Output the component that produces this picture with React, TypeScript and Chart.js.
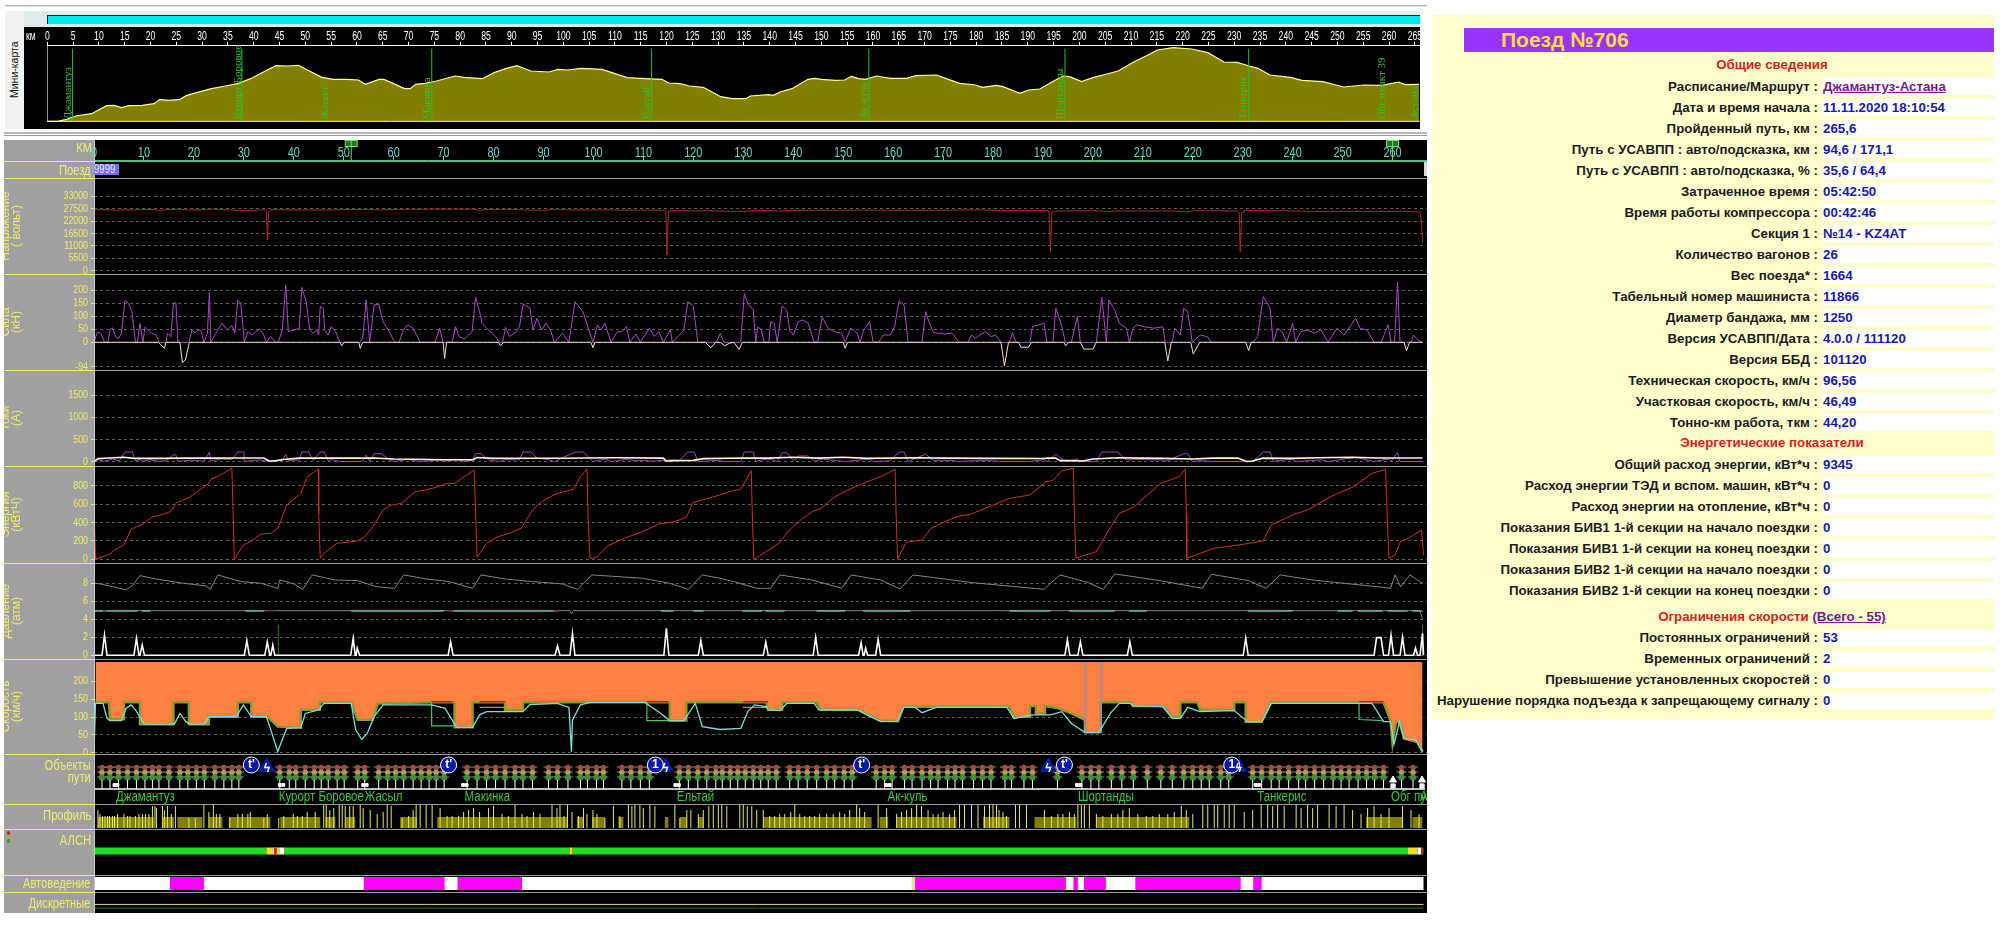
import React, { useEffect, useRef } from "react";
import { Chart, registerables } from "chart.js";

Chart.register(...registerables);

type P = [number, number];
const SANS = "'Liberation Sans',Arial,sans-serif";
const YELLOW = "#eeee70";
const GRID = "#5a5a5a";
const KM_MAX = 266.9;

// ---------- data (km, value) ----------
const elevation: P[] = [[0,0],[2,0],[3.7,6],[5.5,16],[8.6,23],[10,35],[11.5,47],[12.9,48],[14.4,41],[15.8,47],[18.4,48],[20.7,53],[21.8,66],[23.3,63],[25.6,65],[26.9,77],[29.1,87],[31.8,98],[34.5,106],[37.1,114],[39.4,128],[41.6,146],[44.3,167],[46.5,166],[48.7,168],[50.5,153],[53.2,132],[55.4,126],[58.1,126],[60.3,124],[61.6,111],[64.3,126],[65.2,126],[67,114],[69.2,98],[70.3,98],[71.4,111],[73.2,114],[75.4,121],[79,136],[80.8,132],[84.3,128],[86.6,146],[88.8,158],[91,167],[93.7,151],[97.2,148],[99,156],[100.8,154],[103.5,159],[107.5,156],[110.6,140],[112.4,131],[115.9,128],[119.1,126],[120.4,115],[122.6,113],[124.4,106],[127.1,102],[128.9,87],[130.5,74],[132.7,68],[135.4,68],[136.2,76],[139.8,80],[140.7,78],[142,88],[144.3,98],[147.4,126],[148.7,129],[150,126],[152.7,123],[154.5,124],[155.8,135],[157.2,128],[158.5,126],[160.7,136],[163.4,129],[166.5,129],[168.3,137],[172.3,139],[174.6,126],[176.8,114],[179.9,109],[181.2,102],[183.9,108],[185.2,104],[188.4,84],[190.2,94],[192.3,97],[194.6,117],[196.8,136],[198.1,134],[200.4,119],[202.6,131],[205.3,142],[207.5,151],[210.6,179],[213.3,199],[215.1,214],[218.2,221],[221.7,217],[224.9,206],[228,178],[230.6,177],[232.9,166],[234.6,159],[236.9,139],[240.9,132],[243.1,123],[247.2,119],[251.2,103],[255.1,109],[258.7,108],[261.8,118],[263.1,110],[265.8,111]];
const stationLineKm = [4.9, 37.7, 74.5, 117.1, 159.2, 197.2, 232.8];
const miniStations: [number, string][] = [[4,"Джамантуз"],[36.9,"Курорт Боровое"],[53.9,"Жасыл"],[73.6,"Макинка"],[116.2,"Ельтай"],[158.2,"Ак-куль"],[196.3,"Шортанды"],[231.8,"Танкерис"],[258.7,"Обг пункт 39"],[265.1,"Астана"]];
const kmMarkers = [51.5, 260];

const voltage: P[] = [[0,27000],[2,27100],[4,26900],[8,27000],[11,27200],[13,26800],[17,27300],[19,26900],[24,27300],[27,27000],[29,26700],[32,26800],[34.3,27000],[34.5,26500],[34.7,13600],[35,26500],[35.5,27100],[40,27000],[45,26900],[50,27100],[55,27200],[57,26900],[60,27200],[70,27300],[76,27300],[77,26800],[78,26900],[79,27200],[85,27200],[86,26900],[90,26800],[93,27200],[95,27000],[100,27000],[105,26900],[110,26900],[114.2,26800],[114.5,26300],[114.7,6950],[115,26300],[116,26700],[120,26500],[123,26600],[128,26300],[130,26200],[133,26800],[137,26500],[140,26800],[145,26800],[150,26800],[155,26900],[160,26800],[170,26800],[177,27000],[180,26800],[191,26700],[191.2,26000],[191.5,8140],[191.8,26000],[192.5,26500],[200,26600],[203,26300],[206,26500],[215,26500],[218,26200],[221,26600],[229,26500],[229.3,25800],[229.5,8436],[229.8,25800],[230.5,26700],[238,26600],[244,26300],[250,26300],[256,26200],[262,26300],[265.5,26000],[265.8,22000],[266,12580]];

const forceTraction: P[] = [[0,0],[0.6,37],[1.4,35],[2.1,0],[2.8,0],[3.2,47],[3.7,56],[4.3,22],[4.9,14],[5.5,35],[6.2,160],[6.9,150],[7.6,118],[8.3,0],[8.7,0],[9.2,73],[9.8,0],[10.2,58],[10.8,47],[11.5,35],[12.5,28],[13,0],[14.4,0],[14.7,35],[15.4,22],[15.9,150],[16.4,152],[16.8,0],[19,0],[19.6,47],[20.2,37],[20.9,47],[21.4,47],[22,0],[22.7,35],[23.1,192],[23.4,0],[24.4,35],[25.6,73],[26.7,47],[27.6,64],[28.2,35],[28.8,163],[29.4,150],[30.1,0],[30.8,41],[31.7,28],[32.4,41],[33.2,51],[34,28],[34.5,0],[35.4,22],[36.3,0],[36.9,0],[37.7,47],[38.4,220],[38.9,41],[40,47],[41.1,54],[41.6,211],[42.5,156],[43.2,47],[43.9,35],[44.6,47],[45,28],[45.3,138],[45.9,131],[46.2,47],[46.9,28],[47.5,60],[48.4,41],[49.2,0],[53.3,0],[53.8,15],[54.5,163],[55.2,0],[56.1,144],[57,146],[57.9,79],[59.3,35],[60.2,0],[61.1,0],[61.9,47],[62.8,67],[63.9,54],[65.3,0],[68.3,0],[69.2,54],[69.9,0],[71.7,0],[72.4,60],[73.1,22],[74.2,12],[75.7,41],[76.4,173],[77.2,118],[77.7,73],[79,47],[80.4,22],[81.2,0],[81.8,0],[82.4,58],[83.2,22],[84.6,41],[85.2,60],[85.9,147],[87.3,131],[87.9,47],[88.7,92],[89.6,47],[90.5,73],[91.4,47],[92.2,0],[93.8,35],[95.1,0],[96.3,156],[97.9,118],[99.3,35],[99.9,0],[100.8,67],[101.5,47],[102.3,73],[103.5,0],[104.8,41],[105.7,41],[106.6,60],[107.3,0],[108.5,32],[109.4,0],[110.3,28],[111.2,54],[112.2,22],[113.1,41],[114,0],[115.4,47],[115.8,0],[117.2,28],[118.1,47],[118.9,156],[120,137],[120.9,0],[124.6,0],[125.4,35],[126.1,0],[129.5,0],[130.2,188],[130.9,150],[132,124],[132.5,0],[132.9,58],[133.6,50],[134.2,0],[135.1,0],[135.5,79],[136.2,73],[136.8,0],[137.8,140],[138.7,124],[139.3,47],[140,28],[141,79],[141.9,86],[143,73],[144.2,0],[144.9,3],[145.8,96],[147,54],[148.2,41],[149.7,35],[150.4,0],[151.5,54],[152.8,35],[153.4,0],[154.1,47],[155.3,79],[156,0],[157.1,0],[158,28],[159.4,28],[160.3,60],[161.2,160],[162.2,144],[163,0],[165.8,0],[166.5,118],[167.3,73],[168.1,37],[170.4,32],[171.8,35],[173.2,0],[175,0],[175.7,28],[176.5,15],[177.3,28],[178.5,41],[179.6,22],[180.5,28],[181.6,0],[183.3,0],[183.9,37],[184.6,0],[187.4,0],[187.9,60],[189.2,67],[190.2,73],[190.8,0],[192,0],[192.6,131],[193.8,60],[194.5,0],[195.7,0],[196.9,99],[197.5,0],[200.7,0],[201.8,173],[202.7,0],[203.2,163],[204.4,124],[205.3,73],[206.7,54],[207.3,0],[208,54],[208.8,67],[210.3,60],[212.2,54],[214,60],[214.5,0],[215.9,0],[216.4,54],[217.5,28],[218.2,131],[219,118],[219.9,0],[221.5,28],[222.9,22],[223.7,0],[232,0],[233,22],[234.1,176],[235.5,131],[236.1,0],[237,54],[237.9,41],[238.8,0],[240,73],[240.6,0],[241.6,41],[243,47],[244.3,35],[245.7,47],[247.1,0],[248.9,54],[250.3,28],[252.6,92],[253.5,54],[254.9,47],[256.3,0],[257.7,0],[259.1,67],[259.7,0],[260.4,0],[261,233],[261.5,0],[263.7,0],[264.2,28],[265.1,9],[266,0]];
const forceBrake: P[] = [[0,0],[12.9,0],[14.1,-23],[14.4,0],[17.2,0],[17.7,-78],[18.3,-68],[19.1,0],[49.2,0],[49.6,-13],[50.1,0],[53,0],[53.3,-23],[53.8,0],[69.9,0],[70.2,-62],[70.6,0],[81,0],[81.4,-14],[82,0],[99.5,0],[99.9,-21],[100.3,0],[122.4,0],[123.5,-21],[124.5,0],[125.4,0],[126.3,-13],[127.2,-4],[128.1,0],[129.2,-27],[129.8,0],[150,0],[150.4,-23],[150.9,0],[181.6,0],[182.3,-91],[183.1,0],[185.1,0],[185.6,-19],[187.1,-19],[187.7,0],[194.3,0],[194.5,-14],[195.2,0],[197.5,0],[198.2,-26],[200,-26],[200.7,0],[214.4,0],[215,-72],[215.7,0],[219.6,0],[220.1,-45],[221.4,0],[230.6,0],[231.2,-32],[231.7,0],[262.3,0],[262.8,-32],[263.4,0],[266,0]];

const currentPurple: P[] = [[0,0],[0.6,50],[2,10],[3.7,60],[5,20],[6.2,218],[7.7,218],[8.3,15],[9.2,50],[9.8,10],[11,45],[13,10],[14.4,20],[15.9,156],[16.4,156],[16.8,10],[19.6,35],[22,10],[23.1,210],[23.4,20],[25.6,60],[27.6,50],[28.8,218],[30,218],[30.1,10],[32.4,30],[33.2,40],[34.5,10],[37.7,30],[38.4,170],[38.9,30],[41.1,40],[41.6,218],[43,218],[43.9,30],[45.3,218],[46.1,218],[46.9,25],[47.5,50],[49.2,5],[53.8,5],[54.5,150],[55.2,5],[56.1,180],[57.6,180],[59.3,30],[60.2,5],[62.8,50],[65.3,5],[69.2,40],[69.9,5],[72.4,50],[74.2,8],[75.7,30],[76.4,180],[77.5,180],[79,40],[81.2,5],[82.4,45],[85.2,45],[85.9,218],[87.5,218],[88.7,80],[90.5,60],[92.2,5],[96.3,218],[98,218],[99.9,5],[102.3,60],[103.5,5],[106.6,50],[108.5,25],[110.3,25],[112.2,15],[115.4,40],[117.2,25],[118.9,218],[120.2,218],[120.9,5],[125,30],[126.1,5],[129.5,5],[130.2,218],[132,218],[132.5,5],[133.6,40],[135.5,60],[136.8,5],[137.8,205],[138.7,205],[140,25],[141,130],[143,130],[144.2,10],[145.8,60],[148,30],[150.4,5],[152.8,30],[155.3,60],[156,5],[159.4,20],[161.2,218],[162.2,218],[163,5],[166.5,170],[168.1,30],[171.8,30],[173.2,5],[178.5,30],[181.6,5],[187.4,5],[190.2,50],[190.8,5],[192.6,170],[193.8,60],[194.5,5],[196.9,60],[197.5,5],[200.7,5],[201.8,218],[205,218],[206.7,40],[208.8,50],[214,40],[214.5,5],[218.2,180],[219,180],[219.9,5],[221.5,25],[223.7,5],[232,5],[234.1,218],[235.5,218],[236.1,10],[240,60],[240.6,5],[245.7,40],[247.1,5],[252.6,100],[254.9,40],[256.3,5],[259.1,60],[259.7,5],[261,200],[261.5,5],[266,5]];
const currentWhite: P[] = [[0,0],[0.8,70],[3,85],[6,100],[8,75],[14,75],[18,85],[24,80],[28,85],[34,85],[34.7,40],[35.2,10],[36.5,25],[38,50],[41,80],[44,85],[50,80],[56,85],[60,60],[64,55],[70,45],[76,45],[76.6,95],[80,75],[88,78],[95,78],[98,85],[105,90],[114,80],[114.6,10],[115.8,25],[120,30],[122,70],[130,85],[135,80],[140,100],[145,80],[150,100],[155,75],[165,90],[170,80],[180,75],[190,72],[191,80],[192.5,85],[193.5,25],[195,25],[198,15],[200,60],[205,90],[210,80],[214,75],[220,60],[224,80],[229,85],[230.8,5],[232,15],[234,80],[240,75],[245,90],[252,100],[257,85],[266,85]];

const energy: P[] = [[0,611],[0.3,0],[3.2,58],[4.1,102],[6,156],[7.4,327],[8.3,349],[9.7,382],[11.5,458],[12.9,476],[15.3,520],[16.5,618],[17.9,647],[19.3,684],[21.6,775],[23,829],[23.4,873],[25.3,920],[27.6,993],[27.8,611],[28.1,0],[29.9,156],[31.3,193],[33.5,276],[35.4,284],[36.8,338],[38.6,593],[41.4,720],[42.7,902],[44.9,985],[45,502],[45.3,11],[46.4,84],[48.7,175],[52.8,200],[54.2,247],[55.6,338],[57.9,538],[59.3,589],[61.6,611],[64.3,738],[66.2,756],[68.5,785],[70.3,822],[72.2,829],[76.1,975],[76.3,684],[76.7,22],[78.6,175],[80.9,247],[83.2,284],[85.5,338],[87.8,538],[89.6,629],[92.4,713],[96,764],[97.4,902],[98.7,985],[98.9,502],[99.3,11],[100.5,18],[102.9,149],[106.2,229],[109.8,302],[113.1,385],[116.3,411],[118.6,458],[119.9,618],[121.8,647],[125.3,702],[127.2,738],[129.5,764],[131.6,967],[131.8,502],[132.1,0],[134.6,84],[137.3,182],[139.2,320],[141.9,447],[143.8,520],[145.6,556],[147.9,665],[150.2,738],[152.9,804],[155.7,865],[157.5,902],[160.4,982],[160.6,502],[160.9,0],[162.6,185],[165.8,211],[167.6,338],[170.4,411],[172.7,465],[175.5,491],[179.6,582],[183.3,665],[187.4,702],[190.6,847],[192,858],[193.8,967],[196.1,993],[196.3,502],[196.6,11],[200.7,84],[203,302],[205.3,502],[208.1,567],[213.6,829],[217.3,902],[218.5,982],[218.7,502],[218.8,11],[224.2,120],[229.2,156],[234.1,200],[235.7,375],[240.3,491],[243,538],[247.6,684],[252.2,793],[255.9,938],[258.6,982],[258.9,502],[259.3,11],[260.5,47],[261.6,193],[263.2,229],[265.8,320],[266.2,47]];

const pressureMain: P[] = [[0,8.07],[3.2,7.7],[6.4,7.26],[7.8,7.8],[9.2,8.85],[12.4,8.48],[17,8.07],[22.5,7.7],[23.3,7.33],[24.8,8.93],[29.4,8.19],[33.5,8],[36.8,7.44],[37.2,8.37],[40,7.93],[41.8,7.33],[43.7,8.93],[48.3,8.37],[52.8,8.3],[56.5,7.63],[60.2,7.44],[62,8.93],[66.6,8.48],[71.2,8.19],[75.8,7.44],[77.5,8.93],[82.3,8.48],[87.8,8.19],[93.8,7.93],[96.8,7.33],[99.7,8.93],[109.8,8.56],[115.3,8],[119,7.33],[121.8,8.93],[125.3,8.56],[128.1,8.19],[132.7,7.44],[135.5,7.44],[137.3,8.93],[143.8,8.37],[149.7,7.44],[151.6,8.93],[157.5,8.37],[161.4,7.37],[164,8.93],[175.9,8.07],[190.2,7.33],[193.4,8.93],[198.9,8.11],[202.1,7.33],[204.4,9.04],[212.7,8.37],[221.9,7.44],[223.7,9],[231.1,8.3],[234.7,7.44],[237.5,8.93],[243.9,8.37],[256.8,7.63],[259.6,7.44],[260.5,8.93],[261.6,7.63],[263.5,8.93],[266,8]];
const pressureLine: P[] = [[0,4.96],[95.3,4.96],[95.6,4.6],[96,4.96],[265.5,4.96],[266,4]];
const pressureTealRuns: P[] = [[0,8.7],[9.5,11.3],[30.3,34],[51.5,70],[71.5,92.8],[113.5,116],[120,122],[129.8,133.8],[134.4,138.3],[144.7,150.4],[154,163.5],[183.3,191.5],[195.2,204.4],[207.2,210.8],[231,240],[249,252],[253,258],[259,263],[264,266]];
const pressureRedRuns: P[] = [[1.8,2.5],[34.9,36],[71,72],[92,93]];
const brakeCylinder: P[] = [[0,0],[1.6,0],[2.1,2.26],[2.6,0],[8,0],[8.5,1.9],[9,0],[9.2,0],[9.65,1.15],[10.1,0],[30.1,0],[30.6,1.63],[31.1,0],[34.2,0],[34.7,1.5],[35.2,0],[35.4,0],[35.8,1.15],[36.2,0],[51.4,0],[51.9,1.9],[52.3,0],[52.5,0],[52.7,0.8],[53.2,0],[70.9,0],[71.4,1.5],[71.9,0],[92.3,0],[92.8,1.04],[93.3,0],[95.3,0],[95.8,2.44],[96.3,0],[114.1,0],[114.6,3],[115.1,0],[121,0],[121.5,1.63],[122,0],[134,0],[134.5,1.44],[135,0],[144,0],[144.5,2],[145,0],[153.1,0],[153.6,1.4],[154,0],[154.2,0],[154.5,0.8],[154.9,0],[156.5,0],[157,1.78],[157.5,0],[194.4,0],[194.9,1.7],[195.4,0],[197,0],[197.5,1.5],[198,0],[206.9,0],[207.4,1.5],[207.9,0],[230.1,0],[230.6,1.9],[231.1,0],[256.3,0],[256.8,1.96],[257.7,1.96],[258.2,0],[259.2,0],[259.7,2.26],[260.2,0],[261.5,0],[262,2],[262.5,0],[264.2,0],[264.6,0.8],[265,0],[265.5,0],[266,2.44],[266.2,0]];
const pressureGreenSpikes: P[] = [[36.9,3.4],[266,3.4]];

const speedLimit: P[] = [[0.3,141],[3,141],[3.2,94],[6,94],[6,141],[9.2,141],[9.2,80],[15.9,80],[15.9,141],[19,141],[19,80],[23,80],[23,101],[28.8,101],[28.8,141],[31.5,141],[31.5,101],[34.7,101],[36.8,73],[41.4,70],[41.4,120],[45.2,120],[45.2,141],[51.5,141],[52.8,92],[55.8,92],[56.8,138],[67.6,141],[72.2,141],[72.2,71],[75.8,71],[75.8,141],[82.3,141],[82.3,120],[85.9,120],[85.9,141],[115.3,141],[115.3,90],[118.6,90],[118.6,141],[134.6,141],[135,120],[137.8,120],[137.8,141],[144.7,141],[145.5,120],[153,120],[157.5,90],[161,88],[162.1,129],[183.3,129],[184.2,101],[187.4,101],[187.4,131],[188.6,131],[188.6,110],[190.4,110],[190.4,131],[193,125],[195.7,110],[198.4,92],[198.4,57],[201.6,57],[201.6,141],[207.6,141],[208,131],[214,131],[215.9,101],[217.5,101],[217.5,141],[220.9,141],[221.5,120],[228.3,120],[228.3,141],[230.6,141],[230.6,87],[233.8,87],[235.7,141],[258.2,141],[259.6,90],[260,26],[260.7,87],[261.4,87],[262.3,40],[265,30],[266,3]];
const speedActual: P[] = [[0,3],[0.3,138],[1.8,138],[2.6,96],[3.2,90],[5.5,90],[6.4,124],[7.4,134],[8.3,120],[10.1,80],[16.1,80],[17.2,110],[18.4,87],[19.3,80],[22.1,80],[23,101],[28.5,101],[29.9,134],[31.5,101],[34.5,101],[35.4,64],[36.8,3],[37.4,26],[38.6,68],[41.4,70],[42.3,110],[45,120],[46,138],[51.5,138],[52.4,64],[53.6,37],[54.7,54],[56.1,101],[57.9,134],[67.6,134],[70.3,124],[71.7,92],[72.6,71],[75.8,71],[77.2,106],[78.6,115],[85.9,115],[87.3,135],[92.8,138],[95.1,127],[95.6,3],[95.8,92],[97.4,134],[99.3,141],[110.3,141],[113.5,110],[115.3,90],[118.1,90],[120.4,138],[121.8,73],[125.3,65],[129.5,68],[130.9,115],[132.3,134],[134.6,129],[135,120],[137.3,118],[138.7,138],[144.2,138],[145.1,120],[152.9,120],[154.8,106],[157.5,87],[160.8,88],[162.1,127],[164.4,127],[165.8,112],[168.6,127],[182.8,127],[184.2,96],[187.9,106],[191.5,106],[193.8,115],[195.7,82],[198.4,57],[201.2,57],[203.5,110],[205.3,138],[207.6,138],[208.1,131],[214,129],[215.9,96],[217.5,96],[219,127],[221.4,115],[228.3,118],[231,87],[233.8,87],[235.7,138],[253.1,138],[255.9,138],[258.2,87],[259.6,87],[260.3,24],[261.4,87],[262.3,40],[264.6,36],[266,3]];
const speedTempSegments: P[][] = [[[67.6,141],[67.6,75],[72.2,75]],[[77.2,127],[82.3,127]],[[110.7,141],[110.7,90],[115.3,90]],[[129.9,127],[134.6,127]],[[253.3,141],[253.3,93],[258.2,90]]];
const speedRedRuns: P[] = [[67.6,71.8],[77.2,82.3],[110.7,115],[130,135],[253.3,258.2]];
const speedRestriction: P[] = [[198.4,260],[198.4,57],[201.6,57],[201.6,260]];

const signalKm = [1.6,3.2,4.9,6.7,8.5,10.2,11.7,13,15,17.2,18.8,20.5,22.1,24.2,26,27.6,29,37.2,39.1,40.4,42.3,44.1,45.5,46.9,48.7,50.1,52.8,54.2,57,58.8,60.4,62,63.9,65.5,67.1,68.5,70.1,74.7,76.7,78.6,80.4,82.3,84.3,85.9,87.8,91,92.8,94.9,97.4,98.8,100.6,102,105.7,107.5,109.4,111.2,117.2,119,120.9,122.7,124.5,125.8,127.4,128.9,130.4,132,133.5,135,136.6,139.3,141,142.8,144.7,146.7,148.3,150.2,151.8,156.6,158.3,159.8,162.3,163.8,165.8,167.5,169,170.9,172.4,173.9,176.1,177.9,179.6,182.4,183.7,186.2,187.9,192.9,197.8,199.6,201.2,203.7,205.8,208.1,210.9,213.6,215.9,218.2,220,221.7,223.3,225.6,227.2,232,233.8,235.7,237.3,239.2,241.2,242.6,244.4,246.2,248.1,249.7,251.3,253.1,254.8,256.4,258.2,261.8,264.1];
const speedSignKm: [number, string][] = [[31.5,"t'"],[71,"t'"],[112.4,"1"],[153.7,"t'"],[194.3,"t'"],[227.8,"1"]];
const powerSignKm = [34.6, 114.4, 191.1, 229.2];
const stopMarkerKm = [4.1,4.7,37.2,37.9,53.9,54.6,73.9,74.6,116.4,117.1,158.6,159.3,196.8,197.5,232.6,233.3];
const houseKm = [260.1, 265.9];
const trackStations: [number, string][] = [[4.4,"Джамантуз"],[37,"Курорт Боровое"],[54.2,"Жасыл"],[74.2,"Макинка"],[116.7,"Ельтай"],[158.9,"Ак-куль"],[197,"Шортанды"],[232.9,"Танкерис"],[259.7,"Обг пункт 39"],[265.5,"Астана"]];

const profileBlocks: P[] = [[0.7,12],[13.7,16],[16.7,21.7],[23,25.7],[27,35.3],[37.3,45.3],[46.3,48.3],[50.3,52.3],[61.3,64.7],[68.7,94.7],[96.7,98],[99.7,102.3],[105,106],[114.3,115],[117.3,118.7],[121,122],[134,155.7],[157.3,159],[160.7,172.7],[178,183.3],[188.3,196.7],[200.7,219.3],[254.7,262],[264,266]];
const profileTicks: P[] = [[0.8,18],[1.2,14],[1.7,12],[2.2,12],[2.7,12],[3.1,12],[3.7,12],[4.1,12],[4.7,14],[6,14],[6.7,12],[7.2,12],[8.3,12],[9,14],[9.7,14],[10.3,14],[11,14],[11.7,22],[12.2,22],[12.5,20],[13.7,22],[14.1,18],[14.7,22],[15.5,14],[16.3,22],[19,10],[20.3,10],[22,23],[23,16],[23.9,23],[24.5,14],[25.2,14],[27.2,10],[28.8,14],[29.7,14],[30.8,14],[31.3,16],[34,10],[34.7,14],[37,10],[38,12],[39.9,14],[40.7,12],[41.7,12],[42.7,16],[44.3,16],[46,23],[46.5,23],[47.2,18],[48,20],[49.1,23],[49.7,23],[50.3,22],[51.2,22],[51.9,22],[53.3,23],[53.9,20],[55.3,18],[56.7,14],[57.9,16],[58.7,23],[59.5,22],[61.7,10],[63,12],[63.9,18],[64.5,23],[65.3,23],[66.5,23],[67.7,23],[69.3,20],[70.7,12],[71.7,12],[73,12],[74,16],[75,18],[76,20],[77.2,16],[79,20],[80,22],[81.7,14],[83,12],[84.3,23],[85.7,14],[86.7,12],[88,16],[89.3,14],[91.7,23],[92.7,20],[93.3,23],[94.1,12],[94.8,23],[95.7,16],[97,12],[98,20],[98.7,14],[99.9,18],[100.7,14],[102.3,10],[104,22],[105.3,12],[107,23],[107.7,22],[108.3,23],[109.3,23],[110,20],[111.3,23],[112.3,22],[116.3,23],[117.3,10],[118.7,18],[119.5,18],[121,14],[122,18],[123.1,22],[124,23],[125,23],[125.7,23],[126.7,22],[129.3,23],[130,23],[130.8,22],[131.7,22],[132.7,18],[134,18],[135.3,12],[136.3,12],[137.3,14],[138.3,14],[139.5,16],[140.3,23],[141.3,14],[142.3,12],[143.3,12],[144.3,12],[145.3,14],[146.7,14],[148,14],[149.3,16],[150.3,14],[151.3,18],[152.7,23],[153.3,20],[154.3,16],[157,23],[158.7,20],[160.7,14],[161.7,16],[162.7,18],[163.7,20],[164.7,23],[165.7,22],[167,18],[168,14],[169,14],[170,16],[171.3,14],[172.3,18],[173.3,23],[174.3,23],[175.7,23],[177,23],[178.3,22],[179.3,23],[180,23],[180.7,23],[181.2,18],[182,16],[182.7,12],[184.5,23],[185.3,23],[186.7,23],[190.3,18],[191.7,12],[193,14],[194,14],[195.3,16],[196.3,14],[197,23],[197.7,23],[198.3,23],[199.3,23],[200.7,14],[202,12],[203.7,14],[205,14],[206,18],[207.3,20],[209,14],[210.7,12],[212,12],[213.3,14],[215,14],[216.3,16],[217.7,22],[218.7,18],[220,14],[222,23],[223,23],[224.3,23],[225,23],[226.3,23],[227.3,23],[228.3,23],[230.3,16],[232,18],[233.7,23],[235,23],[236,22],[237,23],[238.3,22],[240.7,23],[241.7,20],[243,23],[244,20],[245,23],[247.3,23],[248.7,22],[250.3,23],[252,18],[253.7,14],[255,20],[256.3,22],[257.7,14],[259.3,20],[262,22],[263.7,18],[265.3,14]];

const alsnGreen: P[] = [[0,34.5],[38.1,95.2],[95.8,263.1]];
const alsnYellow: P[] = [[34.5,35.7],[36.6,37.1],[95.2,95.8],[263.1,265]];
const alsnWhite: P[] = [[35.7,36.6],[37.1,38.1],[265,265.7]];
const alsnRed: P[] = [[36,36.6],[265.7,266.2]];

const autoBase: P = [0, 266.2];
const autoMagenta: P[] = [[15.2,22],[54,70.2],[72.8,85.7],[164.4,194.6],[196.1,197],[198.2,202.6],[208.5,229.6],[232.1,233.8]];
const autoPale: P[] = [[163.7,164.4]];
const discreteTop: P[] = [[0,1],[266.2,1]];
const discreteBottom: P[] = [[0,1],[266.2,1]];

const generalRows: [string, string][] = [["Дата и время начала :","11.11.2020 18:10:54"],["Пройденный путь, км :","265,6"],["Путь с УСАВПП : авто/подсказка, км :","94,6 / 171,1"],["Путь с УСАВПП : авто/подсказка, % :","35,6 / 64,4"],["Затраченное время :","05:42:50"],["Время работы компрессора :","00:42:46"],["Секция 1 :","№14 - KZ4AT"],["Количество вагонов :","26"],["Вес поезда* :","1664"],["Табельный номер машиниста :","11866"],["Диаметр бандажа, мм :","1250"],["Версия УСАВПП/Дата :","4.0.0 / 111120"],["Версия ББД :","101120"],["Техническая скорость, км/ч :","96,56"],["Участковая скорость, км/ч :","46,49"],["Тонно-км работа, ткм :","44,20"]];
const energyRows: [string, string][] = [["Общий расход энергии, кВт*ч :","9345"],["Расход энергии ТЭД и вспом. машин, кВт*ч :","0"],["Расход энергии на отопление, кВт*ч :","0"],["Показания БИВ1 1-й секции на начало поездки :","0"],["Показания БИВ1 1-й секции на конец поездки :","0"],["Показания БИВ2 1-й секции на начало поездки :","0"],["Показания БИВ2 1-й секции на конец поездки :","0"]];
const limitRows: [string, string][] = [["Постоянных ограничений :","53"],["Временных ограничений :","2"],["Превышение установленных скоростей :","0"],["Нарушение порядка подъезда к запрещающему сигналу :","0"]];

// ---------- helpers ----------
const pts = (a: P[]) => a.map(([x, y]) => ({ x, y }));
const runsAt = (runs: P[], y: number) => runs.flatMap(([a, b]) => [{ x: a, y }, { x: b, y }, { x: b, y: null as any }]);
const joinSegments = (s: P[][]) => s.flatMap((seg) => [...pts(seg), { x: seg[seg.length - 1][0], y: null as any }]);
const at = (xs: number[], y: number) => xs.map((x) => ({ x, y }));
const line = (data: any[], color: string, width = 1, extra: any = {}) => ({ type: "line", data, borderColor: color, borderWidth: width, pointRadius: 0, tension: 0, fill: false, ...extra });
const mark = (data: any[], color: string, style: string, radius: number, extra: any = {}) => ({ type: "scatter", data, backgroundColor: color, borderColor: color, pointStyle: style, pointRadius: radius, borderWidth: 1, showLine: false, ...extra });

const yRange = (top: number, bottom: number, vA: number, pA: number, vB: number, pB: number) => {
  const k = (vA - vB) / (pB - pA);
  return [vA + (pA - top) * k, vB - (bottom - pB) * k];
};

// condensed text: the reference's bitmap labels are much narrower than any installed face
function squeezed(ctx: any, text: string, x: number, y: number, sx: number, align: string) {
  ctx.save();
  ctx.translate(x, y);
  ctx.scale(sx, 1);
  ctx.textAlign = align;
  ctx.textBaseline = "middle";
  ctx.fillText(text, 0, 0);
  ctx.restore();
}

const baseOptions = (layout: any = {}): any => ({
  animation: false,
  responsive: false,
  devicePixelRatio: 1,
  events: [],
  layout: { autoPadding: false, padding: 0, ...layout },
  plugins: { legend: { display: false }, tooltip: { enabled: false }, title: { display: false } },
  elements: { point: { radius: 0 }, line: { tension: 0 } },
});
const flatX = (min = 0, max = KM_MAX) => ({ type: "linear", display: false, min, max, offset: false });

const yTickText = {
  id: "yTickText",
  afterDraw(c: any) {
    const { ctx, scales: { y } } = c;
    ctx.save();
    ctx.fillStyle = YELLOW;
    ctx.font = `11px ${SANS}`;
    y.ticks.forEach((t: any) => squeezed(ctx, String(t.value), 84, y.getPixelForValue(t.value), 0.8, "right"));
    ctx.restore();
  },
};

function stripOptions(range: number[], ticks: number[], title: string[]) {
  const o = baseOptions();
  o.scales = {
    x: flatX(),
    y: {
      type: "linear",
      min: range[1],
      max: range[0],
      afterBuildTicks: (s: any) => { s.ticks = ticks.map((value) => ({ value })); },
      afterFit: (s: any) => { s.width = 90; s.paddingTop = 0; s.paddingBottom = 0; },
      ticks: { display: false, autoSkip: false },
      grid: { color: GRID, tickColor: YELLOW, tickLength: 3, tickBorderDash: [], drawOnChartArea: true },
      border: { display: false, dash: [3, 3] },
      title: { display: true, text: title, color: YELLOW, padding: { top: -3, bottom: 0 }, font: { family: SANS, size: 12, lineHeight: 0.85 } },
    },
  };
  return o;
}
function plainOptions(min: number, max: number) {
  const o = baseOptions({ padding: { left: 90 } });
  o.scales = { x: flatX(), y: { type: "linear", display: false, min, max } };
  return o;
}

const miniLabels = {
  id: "miniLabels",
  afterDatasetsDraw(c: any) {
    const { ctx, scales: { x, y } } = c;
    ctx.save();
    ctx.fillStyle = "#35c035";
    ctx.font = "11px 'Liberation Serif',serif";
    ctx.textBaseline = "middle";
    miniStations.forEach(([km, name]) => {
      ctx.save();
      ctx.translate(x.getPixelForValue(km), y.getPixelForValue(0) - 2);
      ctx.rotate(-Math.PI / 2);
      ctx.fillText(name, 0, 0);
      ctx.restore();
    });
    ctx.fillStyle = "#fff";
    ctx.font = `12px ${SANS}`;
    squeezed(ctx, "км", 2, 9.5, 0.72, "left");
    x.ticks.forEach((t: any) => squeezed(ctx, String(t.value), x.getPixelForValue(t.value), 9.5, 0.72, "center"));
    ctx.restore();
  },
};
const kmLabels = {
  id: "kmLabels",
  afterDraw(c: any) {
    const { ctx, scales: { x } } = c;
    ctx.save();
    ctx.fillStyle = "#62d2c4";
    ctx.font = `14px ${SANS}`;
    x.ticks.forEach((t: any) => squeezed(ctx, String(t.value), x.getPixelForValue(t.value), 13, 0.78, "center"));
    kmMarkers.forEach((km) => {
      const p = x.getPixelForValue(km);
      ctx.fillStyle = "#1c7a1c";
      ctx.strokeStyle = "#7ed07e";
      ctx.fillRect(p - 6, 0.5, 12, 6);
      ctx.strokeRect(p - 6, 0.5, 12, 6);
      ctx.beginPath();
      ctx.moveTo(p, 0);
      ctx.lineTo(p, c.height);
      ctx.stroke();
    });
    ctx.fillStyle = YELLOW;
    ctx.font = `13px ${SANS}`;
    squeezed(ctx, "КМ", 88, 8, 0.85, "right");
    ctx.restore();
  },
};
const trackLabels = {
  id: "trackLabels",
  afterDatasetsDraw(c: any) {
    const { ctx, chartArea, scales: { x, y } } = c;
    ctx.save();
    ctx.beginPath();
    ctx.rect(chartArea.left, chartArea.top, chartArea.width, chartArea.height);
    ctx.clip();
    ctx.fillStyle = "#36c836";
    ctx.font = `14px ${SANS}`;
    trackStations.forEach(([km, name]) => squeezed(ctx, name, x.getPixelForValue(km), y.getPixelForValue(7), 0.82, "left"));
    ctx.fillStyle = "#fff";
    ctx.font = `bold 12px ${SANS}`;
    speedSignKm.forEach(([km, t]) => squeezed(ctx, t, x.getPixelForValue(km), y.getPixelForValue(39), 1, "center"));
    powerSignKm.forEach((km) => squeezed(ctx, "ϟ", x.getPixelForValue(km), y.getPixelForValue(35), 1, "center"));
    ctx.restore();
  },
};

const miniOptions = (): any => {
  const o = baseOptions({ padding: { left: 23.3 } });
  o.scales = {
    x: {
      type: "linear", position: "top", min: 0, max: 266, offset: false,
      afterBuildTicks: (s: any) => { const t = []; for (let v = 0; v <= 265; v += 5) t.push({ value: v }); s.ticks = t; },
      afterFit: (s: any) => { s.height = 18; s.paddingLeft = 0; s.paddingRight = 0; },
      ticks: { display: false, autoSkip: false },
      grid: { drawOnChartArea: false, color: "#fff", tickLength: 3 },
      border: { color: "#fff" },
    },
    y: { type: "linear", display: false, min: -23, max: 229 },
  };
  return o;
};
const kmOptions = (): any => {
  const o = baseOptions({ padding: { left: 90 } });
  o.scales = {
    x: {
      type: "linear", position: "top", min: 0, max: KM_MAX, offset: false,
      afterBuildTicks: (s: any) => { const t = []; for (let v = 0; v <= 260; v += 10) t.push({ value: v }); s.ticks = t; },
      afterFit: (s: any) => { s.height = 20; s.paddingLeft = 0; s.paddingRight = 0; },
      ticks: { display: false, autoSkip: false },
      grid: { drawOnChartArea: false, color: "#62d2c4", tickLength: 4 },
      border: { color: "#4fc08a", width: 1 },
    },
    y: { type: "linear", display: false, min: 0, max: 1 },
  };
  return o;
};

function barStrip(title: string, layers: { runs: P[]; color: string }[], thick: number, bottomPad: number) {
  const o = baseOptions({ padding: { left: 90, bottom: bottomPad } });
  o.indexAxis = "y";
  o.scales = { x: flatX(), y: { type: "category", display: false, labels: [title] } };
  const datasets = layers.flatMap((l) => l.runs.map((r) => ({ data: [r], backgroundColor: l.color, barThickness: thick, grouped: false, inflateAmount: 0 })));
  return { type: "bar", data: { labels: [title], datasets }, options: o };
}

// ---------- panel configs ----------
const panels: { key: string; x: number; y: number; w: number; h: number; make: () => any }[] = [
  { key: "mini", x: 24, y: 27, w: 1396, h: 102, make: () => ({
    type: "line",
    data: { datasets: [
      ...stationLineKm.map((km) => line([{ x: km, y: 0 }, { x: km, y: 218 }], "#28c028", 1)),
      line([{ x: 0, y: -2 }, { x: 0, y: 229 }], "#ffffff", 1),
      line([{ x: 0, y: 0 }, { x: 266, y: 0 }], "#ffff70", 1),
      line(pts(elevation), "#ffff90", 1.2, { fill: "origin", backgroundColor: "#808000" }),
    ] },
    options: miniOptions(),
    plugins: [miniLabels],
  }) },
  { key: "km", x: 4, y: 140, w: 1423, h: 21, make: () => ({
    type: "line", data: { datasets: [] }, options: kmOptions(), plugins: [kmLabels],
  }) },
  { key: "volt", x: 4, y: 178, w: 1423, h: 96, make: () => ({
    type: "line",
    data: { datasets: [line(pts(voltage), "#a82a2a", 1)] },
    options: stripOptions(yRange(178, 274, 33000, 196.3, 0, 270.7), [33000, 27500, 22000, 16500, 11000, 5500, 0], ["Напряжение", "( вольт)"]),
    plugins: [yTickText],
  }) },
  { key: "force", x: 4, y: 274, w: 1423, h: 96, make: () => ({
    type: "line",
    data: { datasets: [line(pts(forceBrake), "#efe6c4", 1), line(pts(forceTraction), "#a84ac4", 1)] },
    options: stripOptions(yRange(274, 370, 200, 290.3, 0, 342.3), [200, 150, 100, 50, 0, -94], ["Сила", "(кН)"]),
    plugins: [yTickText],
  }) },
  { key: "current", x: 4, y: 370, w: 1423, h: 96, make: () => ({
    type: "line",
    data: { datasets: [line(pts(currentWhite), "#fff6d8", 1.6), line(pts(currentPurple), "#9a48b8", 1)] },
    options: stripOptions(yRange(370, 466, 1500, 395.3, 0, 461.7), [1500, 1000, 500, 0], ["Токи", "(А)"]),
    plugins: [yTickText],
  }) },
  { key: "energy", x: 4, y: 466, w: 1423, h: 97, make: () => ({
    type: "line",
    data: { datasets: [line(pts(energy), "#c83030", 1)] },
    options: stripOptions(yRange(466, 563, 800, 486, 0, 559.3), [800, 600, 400, 200, 0], ["Энергия", "(кВтЧ)"]),
    plugins: [yTickText],
  }) },
  { key: "pressure", x: 4, y: 563, w: 1423, h: 96, make: () => ({
    type: "line",
    data: { datasets: [
      line(pts(brakeCylinder), "#ffffff", 1.6),
      ...pressureGreenSpikes.map(([k, v]) => line([{ x: k, y: 0 }, { x: k, y: v }], "#1f8a2c", 1)),
      line(runsAt(pressureRedRuns, 4.96), "#8a2222", 1.5),
      line(runsAt(pressureTealRuns, 4.93), "#58b8a0", 1.5),
      line(pts(pressureLine), "#85856a", 1),
      line(pts(pressureMain), "#85857a", 1),
    ] },
    options: stripOptions(yRange(563, 659, 8, 583.3, 0, 655.3), [8, 6, 4, 2, 0], ["Давление", "(атм)"]),
    plugins: [yTickText],
  }) },
  { key: "speed", x: 4, y: 659, w: 1423, h: 95, make: () => ({
    type: "line",
    data: { datasets: [
      line(pts(speedActual), "#78e0dc", 1.3),
      line(pts(speedRestriction), "#8a90c0", 1.5),
      line(joinSegments(speedTempSegments), "#3fc86a", 1.2),
      line(runsAt(speedRedRuns, 143), "#c02222", 1.5),
      line(pts(speedLimit), "#8d9a2c", 2.5, { fill: "end", backgroundColor: "#ff8040" }),
    ] },
    options: stripOptions(yRange(659, 754, 200, 681.3, 0, 752.7), [200, 150, 100, 50, 0], ["Скорость", "(км/ч)"]),
    plugins: [yTickText],
  }) },
  { key: "objects", x: 4, y: 754, w: 1423, h: 50, make: () => ({
    type: "scatter",
    data: { datasets: [
      mark(at(speedSignKm.map((s) => s[0]), 39), "#0c1aa8", "circle", 8, { borderColor: "#ffffff", borderWidth: 1 }),
      mark(at(powerSignKm, 37), "#0c1aa8", "triangle", 9),
      mark(at(houseKm, 24), "#ffffff", "triangle", 4),
      mark(at(houseKm, 18), "#ffffff", "rect", 3),
      mark(at(stopMarkerKm, 19), "#ffffff", "rect", 2),
      line(at([0, 266.5], 15), "#ffffff", 1.5),
      mark(at(signalKm, 19.5), "#ffffff", "line", 4.5, { pointRotation: 90 }),
      mark(at(signalKm, 26.5), "#3f8f3f", "circle", 2.8),
      mark(at(signalKm, 31.5), "#b0a24a", "circle", 2.4),
      mark(at(signalKm, 36.5), "#a04a4a", "circle", 2.4),
      mark(at(signalKm, 27), "#8a8a7a", "line", 5),
      mark(at(signalKm, 32), "#8a8a7a", "line", 5),
      mark(at(signalKm, 37), "#8a8a7a", "line", 5),
    ] },
    options: plainOptions(0, 50),
    plugins: [trackLabels],
  }) },
  { key: "profile", x: 4, y: 804, w: 1423, h: 25, make: () => {
    const o = plainOptions(-1, 24);
    const blocks = profileBlocks.flatMap(([a, b]) => [{ x: a, y: 0 }, { x: a, y: 11 }, { x: b, y: 11 }, { x: b, y: 0 }]);
    return {
      type: "bar",
      data: { datasets: [
        { type: "bar", data: pts(profileTicks), backgroundColor: "#e8e860", barThickness: 1, inflateAmount: 0, order: 0 },
        line(blocks, "rgba(0,0,0,0)", 0, { fill: "origin", backgroundColor: "#808000", order: 1 }),
      ] },
      options: o,
    };
  } },
  { key: "alsn", x: 4, y: 829, w: 1423, h: 46, make: () => barStrip("АЛСН", [
    { runs: alsnRed, color: "#c03010" }, { runs: alsnWhite, color: "#fffff0" }, { runs: alsnYellow, color: "#f0e020" }, { runs: alsnGreen, color: "#1fe01f" },
  ], 7, 2) },
  { key: "auto", x: 4, y: 875, w: 1423, h: 17, make: () => barStrip("Автоведение", [
    { runs: autoMagenta, color: "#ff00ff" }, { runs: autoPale, color: "#f0e090" }, { runs: [autoBase], color: "#ffffff" },
  ], 13, 0) },
  { key: "disc", x: 4, y: 892, w: 1423, h: 21, make: () => ({
    type: "line",
    data: { datasets: [line(pts(discreteTop), "#d8d880", 1), line(pts(discreteBottom), "#2f6a30", 1)].map((d, i) => ({ ...d, yAxisID: i ? "y2" : "y" })) },
    options: (() => {
      const o = plainOptions(0, 2.45);
      o.scales.y2 = { type: "linear", display: false, min: 0, max: 4.2 };
      return o;
    })(),
  }) },
];

const separators = [161, 178, 274, 370, 466, 563, 659, 754, 804, 829, 875, 892];
const plotSepColor: Record<number, string> = { 161: "#4fc08a" };

function ChartCanvas({ x, y, w, h, make }: { x: number; y: number; w: number; h: number; make: () => any }) {
  const ref = useRef<HTMLCanvasElement | null>(null);
  useEffect(() => {
    const chart = new Chart(ref.current as HTMLCanvasElement, make());
    return () => chart.destroy();
  }, []);
  return <canvas ref={ref} width={w} height={h} style={{ position: "absolute", left: x, top: y, width: w, height: h }} />;
}

const box = (left: number, top: number, width: number, height: number, background: string, extra: any = {}) => (
  <div style={{ position: "absolute", left, top, width, height, background, ...extra }} />
);
const sideLabel = (text: string, cy: number) => (
  <div key={text} style={{ position: "absolute", right: 2012 - 91, top: cy - 9, height: 18, lineHeight: "18px", color: YELLOW, fontSize: 14, whiteSpace: "nowrap", transform: "scaleX(0.8)", transformOrigin: "right center" }}>{text}</div>
);

const TABLE_COLON = 1818;
const VALUE_X = 1823;
function InfoRow({ cy, label, value, link }: { cy: number; label: string; value: string; link?: boolean }) {
  return (
    <>
      {box(VALUE_X, cy - 8.5, 170.5, 16.5, "#ffffff")}
      <div style={{ position: "absolute", right: 2012 - TABLE_COLON, top: cy - 9, lineHeight: "18px", fontWeight: 700, fontSize: 13.3, color: "#1c1c1c", whiteSpace: "nowrap" }}>{label}</div>
      <div style={{ position: "absolute", left: VALUE_X, top: cy - 9, lineHeight: "18px", fontWeight: 700, fontSize: 13.3, whiteSpace: "nowrap", color: link ? "#7a1a8a" : "#1818b4", textDecoration: link ? "underline" : "none" }}>{value}</div>
    </>
  );
}
const Heading = ({ cy, children }: { cy: number; children: any }) => (
  <div style={{ position: "absolute", left: 1551, width: 442, textAlign: "center", top: cy - 9, lineHeight: "18px", fontWeight: 700, fontSize: 13.3, color: "#dd1c1c", whiteSpace: "nowrap" }}>{children}</div>
);

export default function App() {
  return (
    <div style={{ position: "absolute", left: 0, top: 0, width: 2012, height: 934, background: "#fff", overflow: "hidden", fontFamily: SANS }}>
      {box(5, 5, 1422, 1, "#b0b0b0")}
      {box(5, 6, 1422, 1, "#e4e4e4")}
      {box(5, 11, 19, 118, "#f2f2f2")}
      {box(24, 11, 1396, 16, "#dfeaea")}
      {box(47, 15, 1373, 8.5, "#00e8f0", { borderTop: "1px solid #222", borderLeft: "1px solid #222", boxSizing: "border-box" })}
      {box(24, 27, 1396, 102, "#000")}
      {box(4, 132, 1423, 2, "#b8b8b8")}
      {box(4, 135, 1423, 1, "#9a9a9a")}
      <div style={{ position: "absolute", left: 8, top: 40, height: 60, width: 13, writingMode: "vertical-rl", transform: "rotate(180deg)", fontSize: 10.5, color: "#111", textAlign: "center", lineHeight: "13px", whiteSpace: "nowrap" }}>Мини-карта</div>

      {box(4, 140, 90, 773, "#a0a0a0")}
      {box(94, 140, 1333, 773, "#000")}

      {panels.map((p) => <ChartCanvas key={p.key} x={p.x} y={p.y} w={p.w} h={p.h} make={p.make} />)}

      {box(95, 659, 1332, 2.5, "#000")}
      {separators.map((s) => (
        <React.Fragment key={s}>
          {box(4, s - 0.5, 90, 1, YELLOW)}
          {box(94, s - 0.5, 1333, 1, plotSepColor[s] || "#9a9a9a")}
        </React.Fragment>
      ))}
      {box(94, 140, 1, 773, "#c8c8c8")}

      {sideLabel("Поезд", 170)}
      <div style={{ position: "absolute", left: 94, top: 163.5, width: 25, height: 11, lineHeight: "11px", background: "#6f6ff0", color: "#e8e8ff", fontSize: 12, overflow: "hidden" }}><span style={{ display: "inline-block", transform: "scaleX(0.8)", transformOrigin: "left center" }}>9999</span></div>
      {box(1424, 162, 3, 14, "#d8d8d8")}
      {sideLabel("Объекты", 765)}
      {sideLabel("пути", 777)}
      {sideLabel("Профиль", 815)}
      {sideLabel("АЛСН", 840)}
      {sideLabel("Автоведение", 883)}
      {sideLabel("Дискретные", 903)}
      {box(7, 831, 3, 4, "#c02020", { borderRadius: 2 })}
      {box(7, 835, 3, 4, "#c0b020", { borderRadius: 2 })}
      {box(7, 839, 3, 4, "#20a020", { borderRadius: 2 })}

      {box(1432, 15, 561.5, 705, "#ffffcc")}
      {box(1464, 27.7, 529.5, 24, "#9933ff")}
      <div style={{ position: "absolute", left: 1501, top: 28, lineHeight: "24px", color: "#ffdf3c", fontWeight: 700, fontSize: 21 }}>Поезд №706</div>
      <Heading cy={65.3}>Общие сведения</Heading>
      <InfoRow cy={86.7} label="Расписание/Маршрут :" value="Джамантуз-Астана" link />
      {generalRows.map(([l, v], i) => <InfoRow key={l} cy={107.7 + i * 21} label={l} value={v} />)}
      <Heading cy={443.3}>Энергетические показатели</Heading>
      {energyRows.map(([l, v], i) => <InfoRow key={l} cy={464.5 + i * 21} label={l} value={v} />)}
      <Heading cy={617.3}>Ограничения скорости <span style={{ color: "#7a1a8a", textDecoration: "underline" }}>(Всего - 55)</span></Heading>
      {limitRows.map(([l, v], i) => <InfoRow key={l} cy={638.3 + i * 21} label={l} value={v} />)}
    </div>
  );
}
